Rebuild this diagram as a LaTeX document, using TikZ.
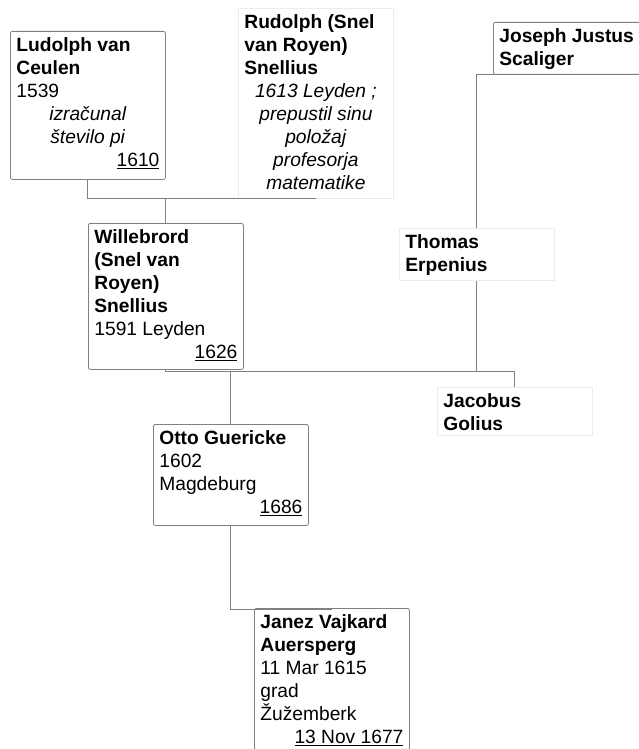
\documentclass[tikz,border=0pt]{standalone}
\usepackage{fontspec}
\setmainfont{Liberation Sans}
\newcommand\ptext[2]{\parbox[c][#1][t]{143pt}{\raggedright\fontsize{19.2pt}{23pt}\selectfont\rule{0pt}{20.5pt}#2}}
\newcommand\ctr[1]{\makebox[\linewidth]{\textit{#1}}}
\newcommand\dth[1]{\makebox[\linewidth][r]{\underline{#1}}}
\tikzset{
  person/.style={draw=black!50, rounded corners=2pt, line width=0.8pt, fill=white, inner xsep=6pt, inner ysep=0pt, anchor=north west},
  lightperson/.style={draw=black!8, line width=0.8pt, fill=white, inner xsep=6pt, inner ysep=0pt, anchor=north west},
  link/.style={draw=black!50, line width=0.9pt}
}
\begin{document}
\begin{tikzpicture}[x=1pt,y=-1pt]
\useasboundingbox (0,0) rectangle (638,749);
\node[person] (ludolph) at (10,31) {\ptext{148pt}{\textbf{Ludolph van}\\\textbf{Ceulen}\\1539\\\ctr{izračunal}\\\ctr{število pi}\\\dth{1610}}};
\node[lightperson] (rudolph) at (238,8) {\ptext{190pt}{\textbf{Rudolph (Snel}\\\textbf{van Royen)}\\\textbf{Snellius}\\\ctr{1613 Leyden ;}\\\ctr{prepustil sinu}\\\ctr{položaj}\\\ctr{profesorja}\\\ctr{matematike}}};
\node[person] (joseph) at (493,22) {\ptext{52pt}{\textbf{Joseph Justus}\\\textbf{Scaliger}}};
\node[person] (willebrord) at (88,223) {\ptext{146pt}{\textbf{Willebrord}\\\textbf{(Snel van}\\\textbf{Royen)}\\\textbf{Snellius}\\1591 Leyden\\\dth{1626}}};
\node[lightperson] (thomas) at (399,228) {\ptext{52pt}{\textbf{Thomas}\\\textbf{Erpenius}}};
\node[lightperson] (jacobus) at (437,387) {\ptext{48pt}{\textbf{Jacobus}\\\textbf{Golius}}};
\node[person] (otto) at (153,424) {\ptext{101pt}{\textbf{Otto Guericke}\\1602\\Magdeburg\\\dth{1686}}};
\node[person] (janez) at (254,608) {\ptext{170pt}{\textbf{Janez Vajkard}\\\textbf{Auersperg}\\11 Mar 1615\\grad\\Žužemberk\\\dth{13 Nov 1677}}};
% family 1
\draw[link] (ludolph.south) |- (rudolph.south);
\coordinate (bar1) at (willebrord.north |- rudolph.south);
\draw[link] (bar1) -- (willebrord.north);
% Scaliger -> Erpenius
\draw[link] (joseph.south) -| (thomas.north);
% family 2
\coordinate (bar2) at (0,371);
\draw[link] (willebrord.south) |- (jacobus.north |- bar2) -- (jacobus.north);
\draw[link] (thomas.south) -- (thomas.south |- bar2);
\draw[link] (otto.north |- bar2) -- (otto.north);
% Otto -> Janez
\draw[link] (otto.south) |- ([yshift=-1pt]janez.north) -- (janez.north);
\end{tikzpicture}
\end{document}
